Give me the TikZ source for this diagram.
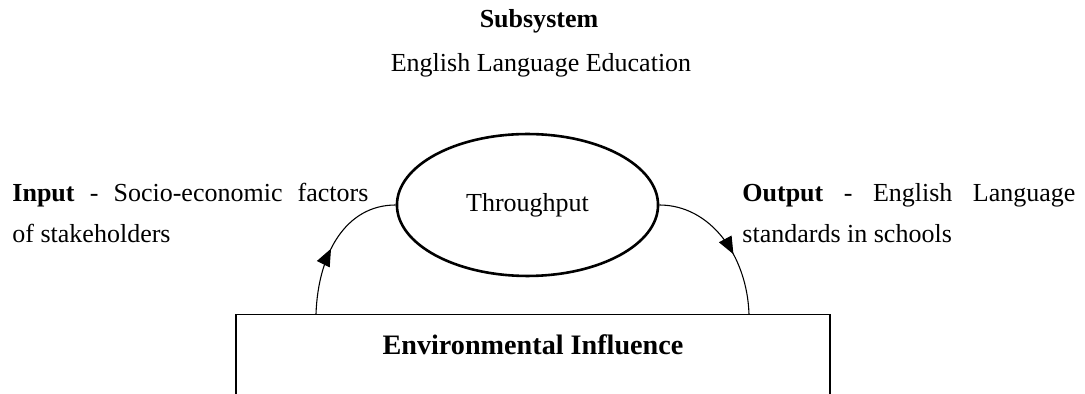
\documentclass[tikz,border=0pt]{standalone}
\usepackage{fontspec}
\setmainfont{Liberation Serif}
\usetikzlibrary{shapes.geometric}
\usetikzlibrary{arrows.meta}
\usetikzlibrary{decorations.markings}

\begin{document}
\begin{tikzpicture}[
            x=0.4615pt, y=-0.4615pt,
            every node/.style={font=\fontsize{12}{18.9}\selectfont, inner sep=0pt},
            proc/.style={ellipse, draw, line width=1.2pt, minimum width=120.5pt, minimum height=65.5pt},
            envbox/.style={rectangle, draw, line width=0.6pt, minimum width=274.1pt, minimum height=70pt},
            sidetext/.style={anchor=base west, align=justify},
            flowarc/.style={line width=0.5pt, decoration={markings, mark=at position #1 with {\arrow{Triangle[length=8pt, width=6.5pt]}}}, postaction={decorate}}
        ]
            \useasboundingbox (0,0) rectangle (1085,394);
            \clip (0,0) rectangle (1085,394);

            \node[anchor=base, font=\fontsize{12}{18.9}\selectfont\bfseries] (sub) at (539,28) {Subsystem};
            \node[anchor=base] (subname) at (541,72) {English Language Education};

            \node[proc] (thru) at (527.5,205) {Throughput};
            \node[envbox] (env) at (533,390) {};
            \node[anchor=base, font=\fontsize{13}{18.9}\selectfont\bfseries] (envname) at (533,355) {Environmental Influence};

            \node[sidetext, text width=164.3pt] (input) at (12,202) {\textbf{Input} - Socio-economic factors\linebreak of stakeholders};
            \node[sidetext, text width=153.7pt] (output) at (742,202) {\textbf{Output} - English Language\linebreak standards in schools};

            \coordinate (inleg) at (316,314);
            \coordinate (outleg) at (749,314);

            \draw[flowarc=0.45] (inleg) .. controls (318,255) and (345,205) .. (thru.west);
            \draw[flowarc=0.6] (thru.east) .. controls (710,205) and (747,255) .. (outleg);
        \end{tikzpicture}
\end{document}
